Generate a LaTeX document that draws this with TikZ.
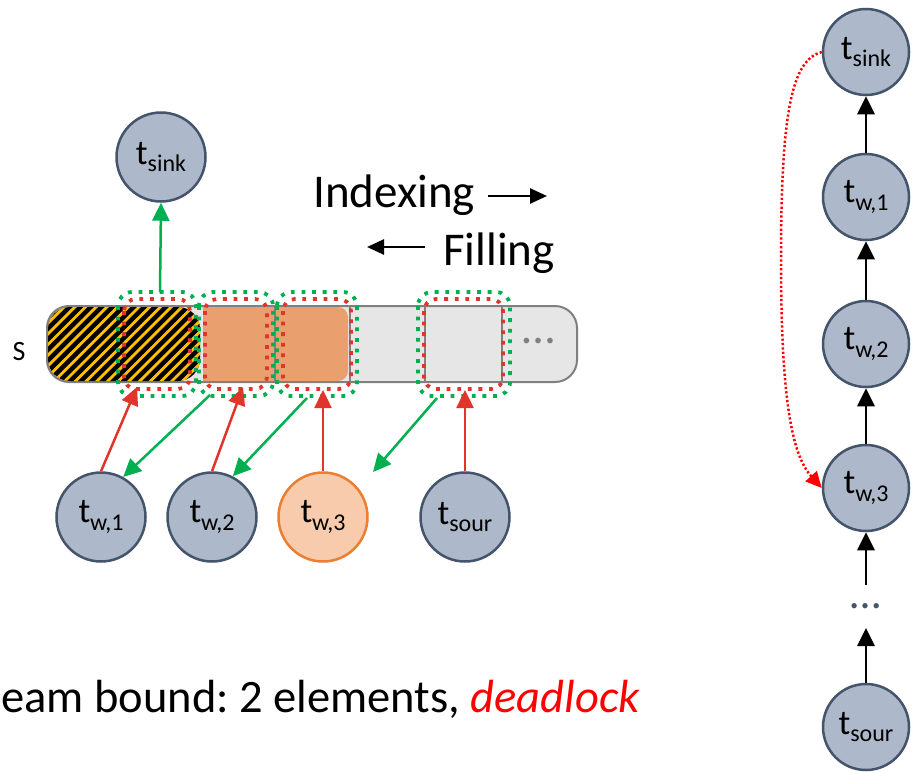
\documentclass[tikz,border=0pt]{standalone}
\usepackage{fontspec}
\setmainfont{Carlito}
\usetikzlibrary{arrows.meta}
\definecolor{nodefill}{HTML}{ADB9CA}
\definecolor{nodeline}{HTML}{44546A}
\definecolor{orfill}{HTML}{F8CBAD}
\definecolor{orline}{HTML}{ED7D31}
\definecolor{cellor}{HTML}{EAA06E}
\definecolor{barfill}{HTML}{E6E6E6}
\definecolor{barline}{HTML}{808080}
\definecolor{grn}{HTML}{00B050}
\definecolor{rd}{HTML}{E0352B}
\definecolor{pured}{HTML}{FF0000}
\definecolor{yel}{HTML}{FFC000}
\newcommand{\tl}[1]{t\raisebox{-7.5pt}{\fontsize{24}{24}\selectfont #1}}
\frenchspacing
\begin{document}
\begin{tikzpicture}[x=1pt,y=-1pt,
  tnode/.style={circle, draw=nodeline, fill=nodefill, line width=2.5pt, minimum size=89pt, inner sep=0pt, font=\fontsize{35}{35}\selectfont},
  rnode/.style={tnode, minimum size=86pt},
  onode/.style={tnode, draw=orline, fill=orfill},
  garr/.style={draw=grn, line width=2.5pt, -{Triangle[length=18pt,width=17pt]}},
  rarr/.style={draw=rd, line width=2.5pt, -{Triangle[length=18pt,width=17pt]}},
  barr/.style={draw=black, line width=2.8pt, -{Triangle[length=18pt,width=17pt]}},
  tarr/.style={draw=black, line width=2.6pt, -{Triangle[length=17pt,width=15pt]}},
  gbox/.style={draw=grn, line width=3.8pt, dash pattern=on 3.8pt off 6.8pt, rounded corners=14pt},
  rbox/.style={draw=rd, line width=3.8pt, dash pattern=on 3.8pt off 6.8pt, rounded corners=12pt},
  big/.style={font=\fontsize{47}{50}\selectfont, inner sep=0pt}
]
\useasboundingbox (0,0) rectangle (912,771);

% stream bar
\draw[draw=barline, fill=barfill, line width=2pt, rounded corners=22pt] (47,306) rectangle (577,382);
\begin{scope}
  \clip[rounded corners=22pt] (48,307) rectangle (200,381);
  \fill[black] (40,300) rectangle (210,390);
  \foreach \i in {0,...,26} {
    \draw[yel, line width=2.8pt] ({\i*10.7-45},384) -- ({\i*10.7+35},304);
  }
\end{scope}
\fill[cellor] (203,307) rectangle (275,381);
\fill[cellor] (275,307) rectangle (320,381);
\fill[cellor, rounded corners=10pt] (300,307) rectangle (348,381);
\foreach \x in {275,350,425,502} \draw[barline, line width=1.5pt] (\x,307) -- (\x,381);
\node[text=barline, big] (bdots) at (539,341) {…};
\node[font=\fontsize{28}{28}\selectfont, inner sep=0pt] (slab) at (19,352) {S};

% dotted cell boxes
\draw[rbox] (124,299) rectangle (190,389);
\draw[rbox] (205,299) rectangle (267,389);
\draw[rbox] (283,299) rectangle (351,389);
\draw[rbox] (424,299) rectangle (503,389);
\draw[gbox] (118,292) rectangle (196,396);
\draw[gbox] (199,292) rectangle (273,396);
\draw[gbox] (277,292) rectangle (357,396);
\draw[gbox] (418,292) rectangle (510,396);

% left nodes
\node[tnode] (lsink) at (161,157) {\tl{sink}};
\node[tnode] (tw1) at (101,517) {\tl{w,1}};
\node[tnode] (tw2) at (212,517) {\tl{w,2}};
\node[onode] (tw3) at (323,517) {\tl{w,3}};
\node[tnode] (tsour) at (465,517) {\tl{sour}};

\coordinate (g0) at (160,292);
\coordinate (r1) at (137,387);
\coordinate (r2) at (243,387);
\coordinate (r3) at (323,390);
\coordinate (r4) at (465,390);
\coordinate (g1) at (210,395);
\coordinate (g2) at (307,398);
\coordinate (g3) at (437,398);
\coordinate (g3e) at (373,472);

\draw[garr] (g0) -- (lsink.south);
\draw[rarr] (tw1.north) -- (r1);
\draw[rarr] (tw2.north) -- (r2);
\draw[rarr] (tw3.north) -- (r3);
\draw[rarr] (tsour.north) -- (r4);
\draw[garr] (g1) -- (tw1.61);
\draw[garr] (g2) -- (tw2.63);
\draw[garr] (g3) -- (g3e);

% texts
\node[big, anchor=base west] (idx) at (313,207) {Indexing};
\node[big, anchor=base west] (fil) at (443,265) {Filling};
\coordinate (ia) at (488,196);
\coordinate (ib) at (547,196);
\coordinate (fa) at (425,247);
\coordinate (fb) at (367,247);
\draw[tarr] (ia) -- (ib);
\draw[tarr] (fa) -- (fb);
\node[font=\fontsize{46.5}{50}\selectfont, inner sep=0pt, anchor=base west] (bound) at (1,712) {eam bound: 2 elements, \textcolor{pured}{\textit{deadlock}}};

% right chain
\node[rnode] (rsink) at (866,52) {\tl{sink}};
\node[rnode] (rw1) at (866,197) {\tl{w,1}};
\node[rnode] (rw2) at (866,344) {\tl{w,2}};
\node[rnode] (rw3) at (866,488) {\tl{w,3}};
\node[text=nodeline, font=\fontsize{44}{44}\selectfont, inner sep=0pt] (rdots) at (866,606) {…};
\node[rnode] (rsour) at (866,727) {\tl{sour}};
\coordinate (d1) at (866,585);
\coordinate (d2) at (866,628);
\draw[barr] (rw1.north) -- (rsink.south);
\draw[barr] (rw2.north) -- (rw1.south);
\draw[barr] (rw3.north) -- (rw2.south);
\draw[barr] (d1) -- (rw3.south);
\draw[barr] (rsour.north) -- (d2);
\draw[pured, line width=2.5pt, dash pattern=on 2.2pt off 2.2pt, -{Triangle[length=16pt,width=15pt]}]
  (rsink.west) .. controls (792,60) and (781,110) .. (781,260)
  .. controls (781,400) and (792,455) .. (rw3.west);
\end{tikzpicture}
\end{document}
